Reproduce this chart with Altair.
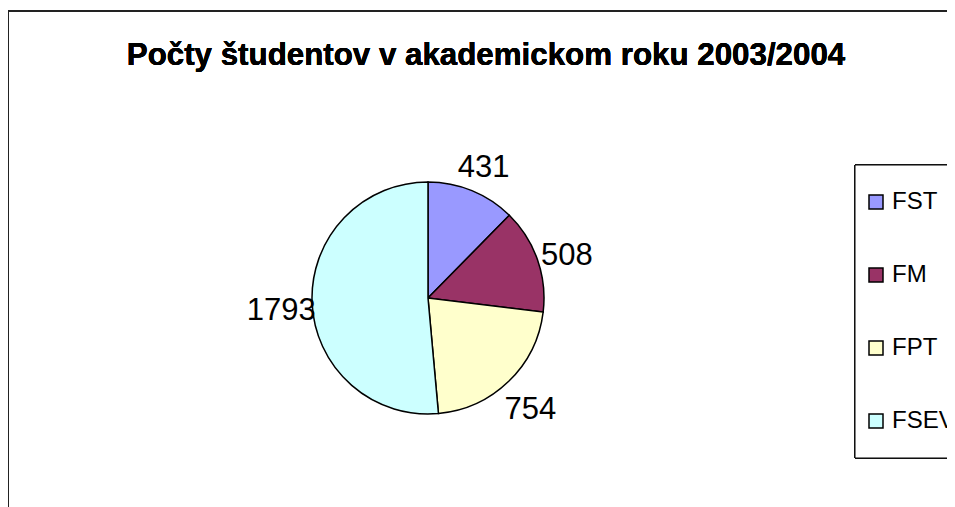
import altair as alt
import pandas as pd

categories = ["FST", "FM", "FPT", "FSEV"]
values = [431, 508, 754, 1793]
colors = ["#9999FF", "#993366", "#FFFFCC", "#CCFFFF"]
title_text = "Počty študentov v akademickom roku 2003/2004"

df = pd.DataFrame({"fakulta": categories, "pocet": values, "order": list(range(len(categories)))})

color_scale = alt.Scale(domain=categories, range=colors)

base = alt.Chart(df).encode(
    theta=alt.Theta("pocet:Q", stack=True),
    order=alt.Order("order:Q"),
)

pie = base.mark_arc(stroke="black", strokeWidth=1.5, radius=116).encode(
    color=alt.Color(
        "fakulta:N",
        scale=color_scale,
        sort=categories,
        legend=alt.Legend(
            title=None,
            orient="none",
            legendX=856,
            legendY=180,
            direction="vertical",
            symbolType="square",
            symbolSize=196,
            symbolStrokeColor="black",
            symbolStrokeWidth=1.5,
            symbolOpacity=1,
            labelFont="Liberation Sans",
            labelFontSize=24,
            labelColor="black",
            labelOffset=4,
            labelLimit=0,
            rowPadding=49,
            padding=0,
        ),
    ),
    x=alt.value(420),
    y=alt.value(288),
)

labels = base.mark_text(
    radius=147, font="Liberation Sans", fontSize=31, color="black", baseline="middle", align="center", dy=6
).encode(
    text="pocet:Q",
    x=alt.value(420),
    y=alt.value(288),
)

legend_box = alt.Chart(df).mark_rect(fill="white", stroke="black", strokeWidth=1).encode(
    x=alt.value(847), x2=alt.value(1200), y=alt.value(155), y2=alt.value(448)
)

frame_top = alt.Chart(df).mark_rule(color="#222222", strokeWidth=2).encode(
    x=alt.value(0), x2=alt.value(1200), y=alt.value(1)
)
frame_left = alt.Chart(df).mark_rule(color="#222222", strokeWidth=2).encode(
    x=alt.value(0), y=alt.value(0), y2=alt.value(1000)
)

title = alt.Chart(df).mark_text(
    font="Liberation Sans", fontSize=31.3, fontWeight="bold", color="black", baseline="middle", align="center"
).encode(
    text=alt.value(title_text),
    x=alt.value(478),
    y=alt.value(46),
)

chart = alt.layer(frame_top, frame_left, legend_box, pie, labels, title).properties(
    width=939,
    height=497,
    autosize=alt.AutoSizeParams(type="none"),
    padding={"left": 0, "top": 2, "right": 0, "bottom": 0},
).configure_view(stroke=None)

chart.save("out.html", embed_options={"renderer": "svg", "actions": False})
